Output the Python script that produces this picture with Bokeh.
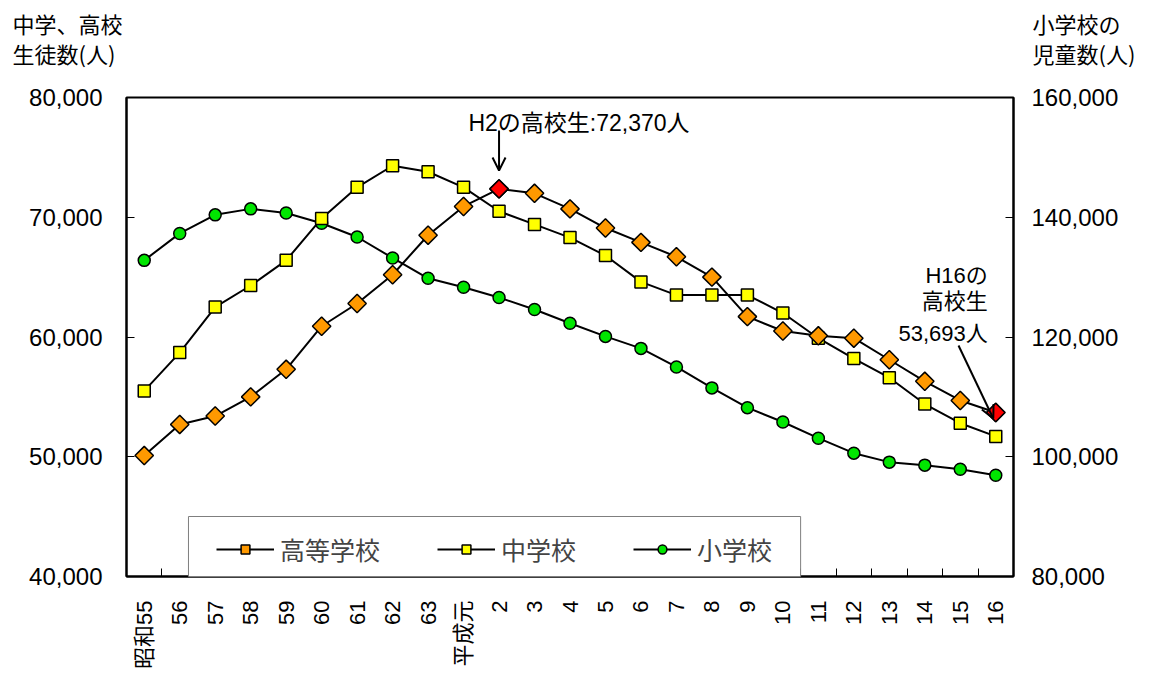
import math
from bokeh.plotting import figure
from bokeh.layouts import column
from bokeh.models import (Range1d, LinearAxis, FixedTicker, NumeralTickFormatter,
                          Legend, LegendItem, Label, Arrow, OpenHead, ColumnDataSource,
                          BoxAnnotation)
from bokeh.embed import file_html
from bokeh.resources import INLINE

# ---- data ----
years = ["昭和55", "56", "57", "58", "59", "60", "61", "62", "63", "平成元",
         "2", "3", "4", "5", "6", "7", "8", "9", "10", "11", "12", "13", "14", "15", "16"]
high_school = [50100, 52700, 53400, 55000, 57300, 60900, 62800, 65200, 68500, 70900,
               72370, 72000, 70700, 69100, 67900, 66700, 65000, 61700, 60500, 60100,
               59900, 58100, 56300, 54700, 53693]
middle_school = [55500, 58700, 62500, 64300, 66400, 69900, 72500, 74300, 73800, 72500,
                 70500, 69400, 68300, 66800, 64600, 63500, 63500, 63500, 62000, 59900,
                 58200, 56600, 54400, 52800, 51700]
elementary = [132800, 137300, 140400, 141400, 140700, 139000, 136700, 133200, 129800, 128300,
              126600, 124600, 122300, 120100, 118100, 115000, 111500, 108200, 105800, 103100,
              100600, 99100, 98600, 97900, 96900]
highlight_years = ["2", "16"]
series_names = ["高等学校", "中学校", "小学校"]
left_ticks = [40000, 50000, 60000, 70000, 80000]
right_ticks = [80000, 100000, 120000, 140000, 160000]

FONT = "Liberation Sans, Noto Sans CJK JP"
JFONT = "Noto Sans CJK JP"
W = 1159

# ---- top strip with the axis titles ----
top = figure(width=W, height=82, x_range=Range1d(0, W), y_range=Range1d(82, 0),
             min_border=0, output_backend="svg", toolbar_location=None, tools="")
top.frame_align = False
top.axis.visible = False
top.xgrid.visible = False
top.ygrid.visible = False
top.outline_line_color = None
for txt, tx, ty in [("中学、高校", 12, 22), ("生徒数(人)", 12, 52),
                    ("小学校の", 1032, 22), ("児童数(人)", 1032, 52)]:
    top.add_layout(Label(x=tx, y=ty, text=txt, text_font=JFONT, text_font_size="22px",
                         text_align="left", text_baseline="middle", text_color="black"))

# ---- main chart ----
xs = list(range(len(years)))
src = ColumnDataSource(dict(x=xs, high=high_school, mid=middle_school, elem=elementary))
hi_idx = [years.index(y) for y in highlight_years]
hsrc = ColumnDataSource(dict(x=hi_idx, y=[high_school[i] for i in hi_idx]))

p = figure(frame_width=887, frame_height=479,
           min_border_left=126, min_border_right=146, min_border_top=15, min_border_bottom=104,
           x_range=Range1d(-0.5, len(years) - 0.5), y_range=Range1d(40000, 80000),
           output_backend="svg", toolbar_location=None, tools="")
p.frame_align = False
p.extra_y_ranges = {"elem": Range1d(80000, 160000)}
p.xgrid.visible = False
p.ygrid.visible = False
p.outline_line_color = "black"
p.outline_line_width = 2
p.background_fill_color = "white"
p.border_fill_color = "white"

xa = p.xaxis[0]
xa.ticker = FixedTicker(ticks=xs, minor_ticks=[i - 0.5 for i in range(len(years) + 1)])
xa.major_label_overrides = {i: years[i] for i in xs}
xa.major_label_orientation = math.pi / 2
xa.major_tick_in = 0
xa.major_tick_out = 0
xa.minor_tick_in = 8
xa.minor_tick_out = 0
xa.minor_tick_line_color = "black"
xa.minor_tick_line_width = 1
xa.axis_line_width = 2
xa.axis_line_color = "black"
xa.major_label_text_font = FONT
xa.major_label_text_font_size = "22px"
xa.major_label_text_color = "black"
xa.major_label_standoff = 24

ya = p.yaxis[0]
ya.ticker = FixedTicker(ticks=left_ticks)
ya.formatter = NumeralTickFormatter(format="0,0")
ya.major_tick_in = 8
ya.major_tick_out = 0
ya.minor_tick_line_color = None
ya.axis_line_width = 2
ya.axis_line_color = "black"
ya.major_label_text_font = FONT
ya.major_label_text_font_size = "24px"
ya.major_label_text_color = "black"
ya.major_label_standoff = 24

ra = LinearAxis(y_range_name="elem", ticker=FixedTicker(ticks=right_ticks),
                formatter=NumeralTickFormatter(format="0,0"))
ra.major_tick_in = 8
ra.major_tick_out = 0
ra.minor_tick_line_color = None
ra.axis_line_width = 2
ra.axis_line_color = "black"
ra.major_label_text_font = FONT
ra.major_label_text_font_size = "24px"
ra.major_label_text_color = "black"
ra.major_label_standoff = 18
p.add_layout(ra, "right")

l_e = p.line("x", "elem", source=src, y_range_name="elem", line_color="black", line_width=2)
s_e = p.scatter("x", "elem", source=src, y_range_name="elem", marker="circle", size=12,
                fill_color="#00E600", line_color="black", line_width=1.5)
l_m = p.line("x", "mid", source=src, line_color="black", line_width=2)
s_m = p.scatter("x", "mid", source=src, marker="square", size=12,
                fill_color="#FFFF00", line_color="black", line_width=1.5)
l_h = p.line("x", "high", source=src, line_color="black", line_width=2)
s_h = p.scatter("x", "high", source=src, marker="square", angle=math.pi / 4, size=13,
                fill_color="#FF9900", line_color="black", line_width=1.5)
p.scatter("x", "y", source=hsrc, marker="square", angle=math.pi / 4, size=13,
          fill_color="#FF0000", line_color="black", line_width=1.5)

# legend box (drawn separately so its padding matches), then transparent legend
p.add_layout(BoxAnnotation(left=1.247, right=18.5, top=45010, bottom=38000,
                           fill_color="white", fill_alpha=1.0,
                           line_color="#7f7f7f", line_width=1, line_alpha=1.0))
legend = Legend(items=[LegendItem(label=series_names[0], renderers=[l_h, s_h]),
                       LegendItem(label=series_names[1], renderers=[l_m, s_m]),
                       LegendItem(label=series_names[2], renderers=[l_e, s_e])],
                location=(90, 9), orientation="horizontal",
                glyph_width=58, glyph_height=22, label_standoff=6, spacing=57,
                padding=22, margin=0,
                label_text_font=JFONT, label_text_font_size="25px",
                border_line_color=None, background_fill_alpha=0.0)
p.add_layout(legend, "center")

i2 = hi_idx[0]
i16 = hi_idx[1]
p.add_layout(Arrow(end=OpenHead(size=13, line_width=2, line_color="black"),
                   x_start=i2, y_start=high_school[i2] + 4870,
                   x_end=i2, y_end=high_school[i2] + 1530,
                   line_width=2, line_color="black"))
p.add_layout(Label(x=i2, y=77830, x_offset=80, text="H2の高校生:72,370人",
                   text_font=FONT, text_font_size="23px", text_align="center",
                   text_baseline="middle", text_color="black"))
p.add_layout(Arrow(end=OpenHead(size=13, line_width=2, line_color="black"),
                   x_start=i16 - 1.05, y_start=high_school[i16] + 5600,
                   x_end=i16 - 0.07, y_end=high_school[i16] - 500,
                   line_width=2, line_color="black"))
for txt, yv in [("H16の", 65140), ("高校生", 62970), ("53,693人", 60300)]:
    p.add_layout(Label(x=i16, y=yv, x_offset=-8, text=txt, text_font=FONT,
                       text_font_size="22px", text_align="right", text_baseline="middle",
                       text_color="black"))

layout = column(top, p, spacing=0)
open("out.html", "w").write(file_html(layout, INLINE))
